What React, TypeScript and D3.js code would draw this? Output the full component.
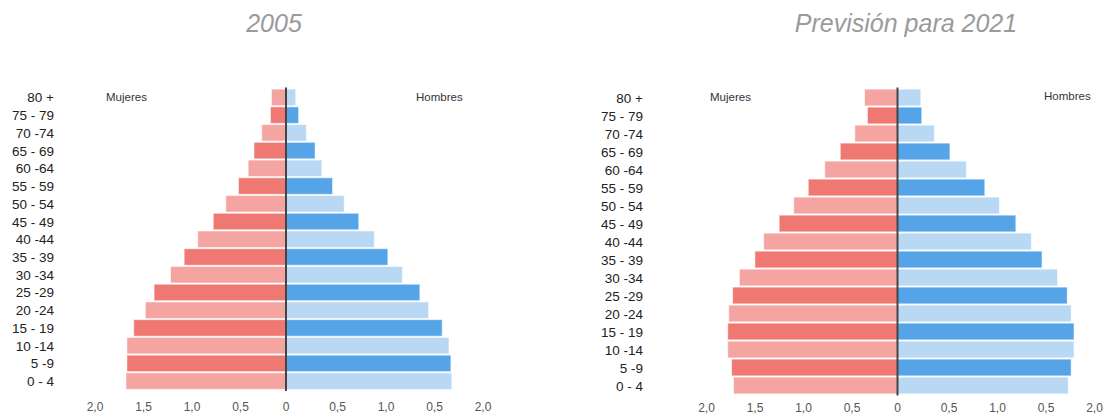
import React from "react";
import * as d3 from "d3";

// Age groups, top (oldest) to bottom (youngest)
const ageGroups = [
  "80 +", "75 - 79", "70 -74", "65 - 69", "60 -64", "55 - 59", "50 - 54", "45 - 49",
  "40 -44", "35 - 39", "30 -34", "25 -29", "20 -24", "15 - 19", "10 -14", "5 -9", "0 - 4",
];

// 2005 population share (%), women and men
const women2005 = [0.15, 0.16, 0.25, 0.33, 0.39, 0.49, 0.62, 0.75, 0.91, 1.05, 1.19, 1.36, 1.45, 1.57, 1.64, 1.64, 1.65];
const men2005 = [0.10, 0.13, 0.21, 0.30, 0.37, 0.48, 0.60, 0.75, 0.91, 1.05, 1.20, 1.38, 1.47, 1.61, 1.68, 1.70, 1.71];

// 2021 forecast (%), women and men
const women2021 = [0.34, 0.31, 0.44, 0.59, 0.75, 0.92, 1.07, 1.22, 1.38, 1.47, 1.63, 1.70, 1.74, 1.75, 1.75, 1.71, 1.69];
const men2021 = [0.24, 0.25, 0.38, 0.54, 0.71, 0.90, 1.05, 1.22, 1.38, 1.49, 1.65, 1.75, 1.79, 1.82, 1.82, 1.79, 1.76];

// Axis tick values and their printed labels
const tickValues = [-2, -1.5, -1, -0.5, 0, 0.5, 1, 1.5, 2];
const tickLabels = ["2,0", "1,5", "1,0", "0,5", "0", "0,5", "1,0", "0,5", "2,0"];

const FONT = "'Liberation Sans', Arial, sans-serif";

const WOMEN_DARK = "#ef7872";
const WOMEN_LIGHT = "#f4a5a2";
const MEN_DARK = "#56a4e8";
const MEN_LIGHT = "#b9d8f4";

type PyramidProps = {
  title: string;
  titleX: number;
  zeroX: number;
  pxPerUnit: number;
  top: number;
  bottom: number;
  labelX: number;
  tickY: number;
  women: number[];
  men: number[];
  mujeresX: number;
  mujeresY: number;
  hombresX: number;
  hombresY: number;
};

function Pyramid(p: PyramidProps) {
  const x = d3
    .scaleLinear()
    .domain([-2, 2])
    .range([p.zeroX - 2 * p.pxPerUnit, p.zeroX + 2 * p.pxPerUnit]);
  // tick labels are spread slightly to the right of the bar scale
  const xTick = d3
    .scaleLinear()
    .domain([-2, 2])
    .range([p.zeroX - 2 * p.pxPerUnit + 3, p.zeroX + 2 * p.pxPerUnit + 3]);
  const y = d3.scaleBand<string>().domain(ageGroups).range([p.top, p.bottom]).paddingInner(0.07).paddingOuter(0.035);
  const bw = y.bandwidth();

  return (
    <g>
      <text
        x={p.titleX}
        y={32}
        textAnchor="middle"
        fontFamily={FONT}
        fontStyle="italic"
        fontSize={25}
        fill="#9a9a9a"
      >
        {p.title}
      </text>

      {ageGroups.map((g, i) => {
        const yy = y(g)!;
        const dark = i % 2 === 1;
        const w = p.women[i];
        const m = p.men[i];
        return (
          <g key={g}>
            <rect
              x={x(-w)}
              y={yy}
              width={x(0) - x(-w)}
              height={bw}
              fill={dark ? WOMEN_DARK : WOMEN_LIGHT}
              stroke="rgba(255,255,255,0.55)"
              strokeWidth={1}
            />
            <rect
              x={x(0)}
              y={yy}
              width={x(m) - x(0)}
              height={bw}
              fill={dark ? MEN_DARK : MEN_LIGHT}
              stroke="rgba(255,255,255,0.55)"
              strokeWidth={1}
            />
            <text
              x={p.labelX}
              y={yy + bw / 2 + 5}
              textAnchor="end"
              fontFamily={FONT}
              fontSize={13.5}
              fill="#222"
            >
              {g}
            </text>
          </g>
        );
      })}

      <line x1={x(0)} x2={x(0)} y1={p.top - 1} y2={p.bottom + 1} stroke="#444" strokeWidth={2} />

      {tickValues.map((t, i) => (
        <text
          key={i}
          x={t === 0 ? x(0) : xTick(t)}
          y={p.tickY}
          textAnchor="middle"
          fontFamily={FONT}
          fontSize={12}
          fill="#555"
        >
          {tickLabels[i]}
        </text>
      ))}

      <text x={p.mujeresX} y={p.mujeresY} fontFamily={FONT} fontSize={11.5} fill="#333">
        Mujeres
      </text>
      <text x={p.hombresX} y={p.hombresY} fontFamily={FONT} fontSize={11.5} fill="#333">
        Hombres
      </text>
    </g>
  );
}

export default function App() {
  return (
    <div style={{ position: "absolute", left: 0, top: 0 }}>
      <svg width={1110} height={414} style={{ display: "block", background: "#fff" }}>
        <Pyramid
          title="2005"
          titleX={274}
          zeroX={286}
          pxPerUnit={97}
          top={88.5}
          bottom={390}
          labelX={54}
          tickY={410.5}
          women={women2005}
          men={men2005}
          mujeresX={106}
          mujeresY={101}
          hombresX={416}
          hombresY={101}
        />
        <Pyramid
          title="Previsión para 2021"
          titleX={906}
          zeroX={897.5}
          pxPerUnit={97}
          top={88.5}
          bottom={394.5}
          labelX={643}
          tickY={411.5}
          women={women2021}
          men={men2021}
          mujeresX={710}
          mujeresY={101}
          hombresX={1044}
          hombresY={100}
        />
      </svg>
    </div>
  );
}
